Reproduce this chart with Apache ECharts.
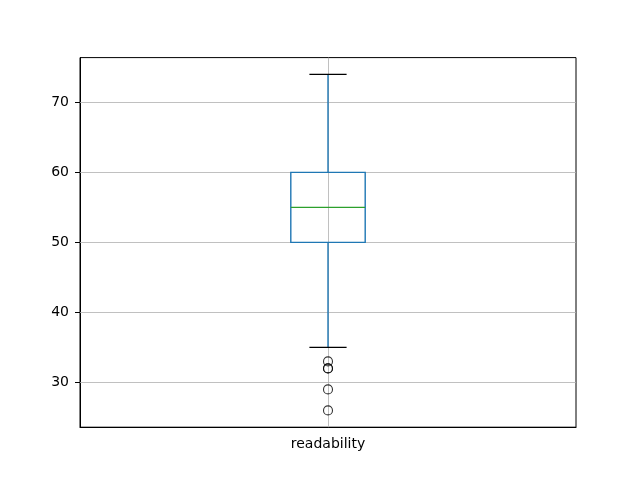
<!DOCTYPE html>
<html>
<head>
<meta charset="utf-8">
<script src="https://cdn.jsdelivr.net/npm/echarts@6/dist/echarts.min.js"></script>
<style>html,body{margin:0;padding:0;background:#fff;}#c{width:640px;height:480px;}</style>
</head>
<body>
<div id="c"></div>
<script>
const categories = ['readability'];
// [whiskerLow, Q1, median, Q3, whiskerHigh]
const boxStats = [[35, 50, 55, 60, 74]];
const outliers = [33, 32, 32, 29, 26];
const yTicks = [30, 40, 50, 60, 70];
const yMin = 23.6, yMax = 76.4;

const chart = echarts.init(document.getElementById('c'), null, {renderer: 'canvas'});
const font = 'DejaVu Sans';

const customData = boxStats.map((s, i) => [i].concat(s));
const outlierData = outliers.map(v => [categories[0], v]);

chart.setOption({
  animation: false,
  backgroundColor: '#fff',
  grid: {left: 80, right: 64, top: 57.6, bottom: 52.8, show: true, borderColor: '#000', borderWidth: 1, backgroundColor: 'transparent'},
  xAxis: {
    type: 'category', data: categories, boundaryGap: true,
    axisLine: {lineStyle: {color: '#000', width: 1}},
    axisTick: {alignWithLabel: true, length: 5, lineStyle: {color: '#000'}},
    axisLabel: {color: '#000', fontFamily: font, fontSize: 14, margin: 10},
    splitLine: {show: false}
  },
  yAxis: {
    type: 'value', min: yMin, max: yMax,
    axisLine: {show: true, lineStyle: {color: '#000', width: 1}},
    axisTick: {show: true, length: 5, lineStyle: {color: '#000'}, customValues: yTicks},
    axisLabel: {color: '#000', fontFamily: font, fontSize: 14, margin: 11, customValues: yTicks},
    splitLine: {show: false}
  },
  series: [
    {
      type: 'scatter', z: 1, silent: true,
      data: [[categories[0], yTicks[0]]], symbolSize: 0,
      markLine: {
        silent: true, z: 1, symbol: ['none', 'none'], animation: false,
        label: {show: false},
        lineStyle: {color: '#b0b0b0', width: 0.8, type: 'solid'},
        data: yTicks.map(v => ({yAxis: v})).concat([{xAxis: categories[0]}])
      }
    },
    {
      type: 'custom', z: 10,
      data: customData,
      renderItem: function (params, api) {
        const x = api.value(0);
        const lo = api.coord([x, api.value(1)]);
        const q1 = api.coord([x, api.value(2)]);
        const med = api.coord([x, api.value(3)]);
        const q3 = api.coord([x, api.value(4)]);
        const hi = api.coord([x, api.value(5)]);
        const band = api.size([1, 0])[0];
        const bw = band * 0.15, cw = bw * 0.5;
        const cx = lo[0];
        const blue = '#1f77b4';
        return {
          type: 'group',
          children: [
            {type: 'line', shape: {x1: cx, y1: q1[1], x2: cx, y2: lo[1]}, style: {stroke: blue, lineWidth: 1.4}},
            {type: 'line', shape: {x1: cx, y1: q3[1], x2: cx, y2: hi[1]}, style: {stroke: blue, lineWidth: 1.4}},
            {type: 'rect', shape: {x: cx - bw / 2, y: q3[1], width: bw, height: q1[1] - q3[1]}, style: {fill: 'none', stroke: blue, lineWidth: 1.4}},
            {type: 'line', shape: {x1: cx - bw / 2, y1: med[1], x2: cx + bw / 2, y2: med[1]}, style: {stroke: '#2ca02c', lineWidth: 1.4}},
            {type: 'line', shape: {x1: cx - cw / 2, y1: lo[1], x2: cx + cw / 2, y2: lo[1]}, style: {stroke: '#000', lineWidth: 1.4}},
            {type: 'line', shape: {x1: cx - cw / 2, y1: hi[1], x2: cx + cw / 2, y2: hi[1]}, style: {stroke: '#000', lineWidth: 1.4}}
          ]
        };
      }
    },
    {
      type: 'scatter', z: 11,
      data: outlierData,
      symbol: 'circle', symbolSize: 9,
      itemStyle: {color: 'rgba(0,0,0,0)', borderColor: '#000', borderWidth: 1.1}
    }
  ]
});
</script>
</body>
</html>
